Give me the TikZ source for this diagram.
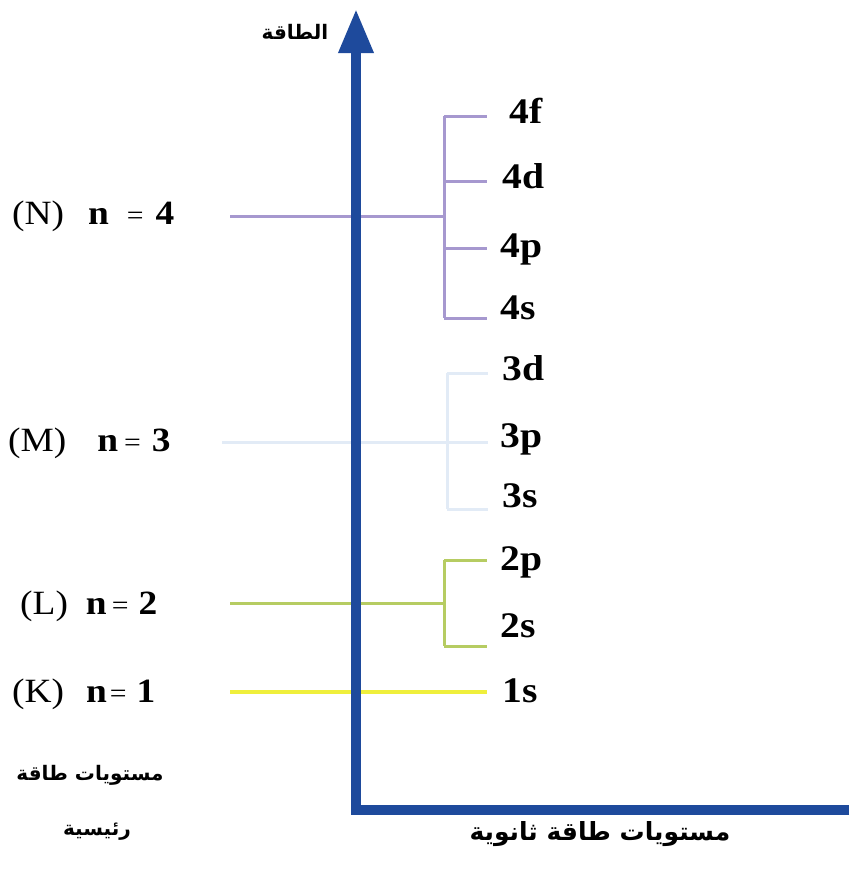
\documentclass[tikz,border=0pt]{standalone}
\usepackage{fontspec}
\setmainfont{Liberation Serif}
\newfontfamily\labfont{Liberation Serif}[FakeStretch=1.1]
\newfontfamily\arabicfont[Script=Arabic]{DejaVu Sans}
\TeXXeTstate=1
\usetikzlibrary{arrows.meta}
\definecolor{axisblue}{HTML}{1E4A9C}
\definecolor{colN}{HTML}{A698CF}
\definecolor{colM}{HTML}{E2EBF6}
\definecolor{colL}{HTML}{B6CC62}
\definecolor{colK}{HTML}{EFEF3C}
\newcommand{\smeq}{{\fontsize{27}{30}\selectfont =}}
\tikzset{
  axisline/.style={draw=axisblue, line width=9.5pt, line join=miter},
  lvl/.style={line width=3pt},
  sublab/.style={anchor=base west, inner sep=0pt, font=\labfont\fontsize{36}{40}\selectfont\bfseries},
  mainlab/.style={anchor=base west, inner sep=0pt, font=\labfont\fontsize{34}{38}\selectfont},
  arlab/.style={inner sep=0pt, font=\arabicfont\bfseries\fontsize{20}{24}\selectfont},
  arbig/.style={inner sep=0pt, font=\arabicfont\bfseries\fontsize{25}{30}\selectfont},
}
\begin{document}
\begin{tikzpicture}[x=1pt,y=-1pt]
\useasboundingbox (0,0) rectangle (864,876);

% ---------- n = 4 (N)
\coordinate (N0) at (230,216);
\coordinate (Nb) at (444,216);
\coordinate (Nt) at (444,116);
\coordinate (Nbot) at (444,318);
\coordinate (Nd) at (444,181);
\coordinate (Np) at (444,248);
\coordinate (N4f) at (487,116);
\coordinate (N4d) at (487,181);
\coordinate (N4p) at (487,248);
\coordinate (N4s) at (487,318);
\draw[lvl, colN] (N0) -- (Nb);
\draw[lvl, colN] (Nt) -- (Nbot);
\draw[lvl, colN] (Nt) -- (N4f);
\draw[lvl, colN] (Nd) -- (N4d);
\draw[lvl, colN] (Np) -- (N4p);
\draw[lvl, colN] (Nbot) -- (N4s);
\node[sublab] (l4f) at (509,123) {4f};
\node[sublab] (l4d) at (502,188) {4d};
\node[sublab] (l4p) at (500,257) {4p};
\node[sublab] (l4s) at (500,319) {4s};

% ---------- n = 3 (M)
\coordinate (M0) at (222,442);
\coordinate (M3p) at (488,442);
\coordinate (Mt) at (447,373);
\coordinate (Mbot) at (447,509);
\coordinate (M3d) at (488,373);
\coordinate (M3s) at (488,509);
\draw[lvl, colM] (M0) -- (M3p);
\draw[lvl, colM] (Mt) -- (Mbot);
\draw[lvl, colM] (Mt) -- (M3d);
\draw[lvl, colM] (Mbot) -- (M3s);
\node[sublab] (l3d) at (502,380) {3d};
\node[sublab] (l3p) at (500,447) {3p};
\node[sublab] (l3s) at (502,507) {3s};

% ---------- n = 2 (L)
\coordinate (L0) at (230,603);
\coordinate (Lb) at (444,603);
\coordinate (Lt) at (444,560);
\coordinate (Lbot) at (444,646);
\coordinate (L2p) at (487,560);
\coordinate (L2s) at (487,646);
\draw[lvl, colL] (L0) -- (Lb);
\draw[lvl, colL] (Lt) -- (Lbot);
\draw[lvl, colL] (Lt) -- (L2p);
\draw[lvl, colL] (Lbot) -- (L2s);
\node[sublab] (l2p) at (500,570) {2p};
\node[sublab] (l2s) at (500,637) {2s};

% ---------- n = 1 (K)
\coordinate (K0) at (230,692);
\coordinate (K1s) at (487,692);
\draw[line width=4pt, colK] (K0) -- (K1s);
\node[sublab] (l1s) at (502,702) {1s};

% ---------- axes (on top of the level lines)
\coordinate (O) at (356,810);
\coordinate (Xend) at (849,810);
\coordinate (Ytop) at (356,9);
\draw[axisline, -{Triangle[width=33pt,length=44pt]}] (Xend) -- (O) -- (Ytop);
\node[arlab] (energy) at (295,32) {\beginR الطاقة\endR};

% ---------- main level labels
\node[mainlab] (labN) at (12,224) {(N)\hspace{24pt}\textbf{n}\hspace{18pt}\smeq\hspace{12pt}\textbf{4}};
\node[mainlab] (labM) at (8,451) {(M)\hspace{31pt}\textbf{n}\hspace{6pt}\smeq\hspace{11pt}\textbf{3}};
\node[mainlab] (labL) at (20,614) {(L)\hspace{18pt}\textbf{n}\hspace{5pt}\smeq\hspace{10pt}\textbf{2}};
\node[mainlab] (labK) at (12,702) {(K)\hspace{22pt}\textbf{n}\hspace{3pt}\smeq\hspace{10pt}\textbf{1}};

% ---------- Arabic captions
\node[arlab] (main1) at (90,775) {\beginR مستويات طاقة\endR};
\node[arlab] (main2) at (97,832) {\beginR رئيسية\endR};
\node[arbig] (sub) at (600,834) {\beginR مستويات طاقة ثانوية\endR};
\end{tikzpicture}
\end{document}
